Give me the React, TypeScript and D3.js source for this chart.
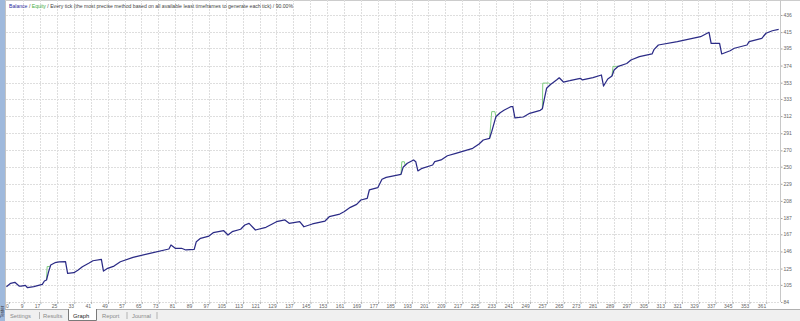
import React from "react";
import * as d3 from "d3";

// Balance curve key points (trade number, balance)
const trades = [
  1, 3, 5, 7, 8, 10, 11, 14, 18, 19, 20, 21, 22, 24, 26, 29, 30, 33, 35, 37, 40, 42, 46, 47, 49, 52, 55, 61, 69,
  78, 79, 81, 84, 86, 90, 91, 93, 97, 99, 104, 106, 108, 112, 114, 116, 119, 124, 127, 129, 133, 135, 140, 142,
  146, 152, 154, 159, 161, 164, 167, 169, 172, 173, 177, 179, 181, 188, 189, 191, 194, 195, 196, 198, 203, 204,
  207, 210, 214, 222, 225, 227, 230, 231, 233, 235, 237, 240, 241, 242, 246, 249, 254, 255, 256, 257, 259, 260,
  262, 263, 265, 268, 273, 274, 279, 283, 284, 286, 288, 289, 291, 295, 297, 301, 307, 308, 310, 319, 330, 334,
  335, 339, 340, 344, 346, 352, 353, 359, 361, 364, 367,
];
const balance = [
  102.8, 106.9, 108.2, 103.6, 103.6, 104.5, 101.5, 102.8, 105.7, 109.8, 111.0, 121.2, 129.4, 132.2, 133.1, 133.4,
  119.2, 119.9, 123.2, 127.3, 131.5, 134.6, 136.4, 122.0, 125.3, 128.1, 133.4, 138.8, 143.7, 149.0, 153.9, 149.9,
  149.9, 147.8, 148.6, 158.0, 162.1, 164.9, 169.0, 171.4, 166.2, 170.2, 173.2, 178.4, 180.5, 172.3, 175.6, 179.7,
  182.5, 184.6, 180.5, 182.5, 176.3, 179.7, 183.3, 188.6, 191.9, 194.7, 200.1, 203.8, 209.1, 211.2, 221.4, 224.2,
  234.5, 236.9, 240.6, 249.2, 254.1, 258.2, 256.1, 244.7, 248.0, 252.0, 256.1, 258.2, 263.4, 266.4, 272.5, 277.8,
  282.7, 284.8, 292.9, 311.3, 316.2, 319.5, 323.5, 323.7, 309.9, 310.9, 315.4, 319.1, 321.0, 333.8, 346.1, 351.0,
  353.0, 356.9, 359.0, 353.8, 355.4, 358.4, 356.3, 359.1, 362.4, 348.9, 357.5, 361.2, 368.5, 373.1, 376.5, 380.8,
  384.9, 388.2, 393.9, 399.2, 403.3, 409.4, 414.8, 401.3, 401.3, 388.2, 392.2, 395.2, 399.2, 403.3, 407.4, 413.6,
  416.7, 418.5,
];

// Equity excursions visible above the balance curve
const equitySpikeTrades = [
  [20, 20.3, 21.5, 22],
  [188, 188.4, 189.6, 190],
  [230, 231, 232.5, 233],
  [255, 255.2, 258, 258.7],
  [288, 288.5, 290, 291],
];
const equitySpikeValues = [
  [111.0, 127.5, 127.5, 129.4],
  [240.6, 256, 256, 251.5],
  [284.8, 317.5, 317.5, 311.3],
  [321.0, 352.5, 352.5, 351.0],
  [361.2, 373, 373, 373.1],
];

const xTickLabels = [
  0, 9, 17, 25, 33, 41, 49, 57, 65, 73, 81, 89, 97, 105, 113, 121, 129, 137, 145, 153, 161, 169, 177, 185, 193,
  201, 209, 217, 225, 233, 241, 249, 257, 265, 273, 281, 289, 297, 305, 313, 321, 329, 337, 345, 353, 361,
];
const yTickLabels = [84, 105, 125, 146, 167, 187, 208, 229, 250, 270, 291, 312, 333, 353, 374, 395, 415, 436];

const headerParts = [
  { text: "Balance", color: "#2a2aa0" },
  { text: " / ", color: "#444" },
  { text: "Equity", color: "#3fae3f" },
  { text: " / Every tick (the most precise method based on all available least timeframes to generate each tick) / 90.00%", color: "#444" },
];
const tabs = ["Settings", "Results", "Graph", "Report", "Journal"];
const tabX = [10, 43, 73, 102, 132];

const W = 800;
const H = 321;
const plotLeft = 6;
const plotRight = 780;
const plotTop = 0;
const plotBottom = 302;

export default function App() {
  const x = d3.scaleLinear().domain([9, 361]).range([23.3, 766]);
  const y = d3.scaleLinear().domain([84, 436]).range([302, 15]);

  const pts: [number, number][] = trades.map((t, i) => [t, balance[i]]);
  const line = d3
    .line<[number, number]>()
    .x((d) => x(d[0]))
    .y((d) => y(d[1]));

  const font = "'Liberation Sans', Arial, sans-serif";

  return (
    <svg
      width={W}
      height={H}
      style={{ position: "absolute", left: 0, top: 0, display: "block", background: "#fff" }}
    >
      <rect x={0} y={0} width={W} height={H} fill="#fff" />
      {/* left blue strip */}
      <rect x={0} y={0} width={5} height={H} fill="#9fb9dc" />
      <line x1={5.5} x2={5.5} y1={0} y2={309} stroke="#c4c4c4" />
      <text transform="translate(3.6,318) rotate(-90)" fontSize={4.5} fontFamily={font} fill="#333">
        Tester
      </text>

      {/* top border */}
      <line x1={5} x2={W} y1={0.5} y2={0.5} stroke="#cccccc" />

      {/* grid */}
      <g>
        {yTickLabels.map((v) => (
          <line
            key={"h" + v}
            x1={plotLeft}
            x2={plotRight}
            y1={Math.round(y(v)) + 0.5}
            y2={Math.round(y(v)) + 0.5}
            stroke="#dedede"
            strokeDasharray="2 1"
          />
        ))}
        {xTickLabels.map((v) =>
          x(v) > plotLeft ? (
            <line
              key={"v" + v}
              x1={Math.round(x(v)) + 0.5}
              x2={Math.round(x(v)) + 0.5}
              y1={plotTop}
              y2={plotBottom}
              stroke="#dedede"
              strokeDasharray="2 1"
            />
          ) : null
        )}
      </g>
      <line x1={plotRight + 0.5} x2={plotRight + 0.5} y1={0} y2={plotBottom} stroke="#c8c8c8" />

      {/* header */}
      <text x={9} y={7.8} fontSize={4.8} fontFamily={font} textLength={284} lengthAdjust="spacingAndGlyphs">
        {headerParts.map((p, i) => (
          <tspan key={i} fill={p.color}>
            {p.text}
          </tspan>
        ))}
      </text>

      {/* equity excursions */}
      {equitySpikeTrades.map((ts, k) => (
        <path
          key={"eq" + k}
          d={line(ts.map((t, i) => [t, equitySpikeValues[k][i]]) as [number, number][]) || ""}
          fill="none"
          stroke="#74c874"
          strokeWidth={0.9}
        />
      ))}

      {/* balance */}
      <path d={line(pts) || ""} fill="none" stroke="#2b2b86" strokeWidth={1.25} strokeLinejoin="round" />

      {/* y axis labels */}
      {yTickLabels.map((v) => (
        <g key={"yl" + v}>
          <line x1={781} x2={782.5} y1={y(v) + 0.5} y2={y(v) + 0.5} stroke="#888" strokeWidth={0.8} />
          <text x={783.5} y={y(v) + 2} fontSize={5} fontFamily={font} fill="#666">
            {v}
          </text>
        </g>
      ))}

      {/* x axis labels */}
      {xTickLabels.map((v) => {
        const lx = Math.max(x(v), 8.5);
        return (
          <g key={"xl" + v}>
            <line x1={lx + 0.8} x2={lx + 0.8} y1={302} y2={304} stroke="#888" strokeWidth={0.6} />
            <text x={lx + 0.2} y={307.5} fontSize={5} fontFamily={font} fill="#666" textAnchor="end">
              {v}
            </text>
          </g>
        );
      })}

      {/* tab bar */}
      <rect x={5} y={309} width={W - 5} height={12} fill="#f0f0f0" />
      <line x1={5} x2={W} y1={309.5} y2={309.5} stroke="#b0b0b0" />
      <rect x={68} y={309} width={29} height={12} fill="#fff" />
      <path d="M68.5,309 V320.5 H96.5 V309" fill="none" stroke="#7a7a7a" />
      {tabs.map((t, i) => (
        <text
          key={t}
          x={tabX[i]}
          y={317.5}
          fontSize={5.8}
          fontFamily={font}
          fill={t === "Graph" ? "#222" : "#8a8a8a"}
        >
          {t}
        </text>
      ))}
      {[39.5, 127, 157].map((sx) => (
        <line key={"sep" + sx} x1={sx} x2={sx} y1={312} y2={319} stroke="#9a9a9a" strokeWidth={0.7} />
      ))}
    </svg>
  );
}
